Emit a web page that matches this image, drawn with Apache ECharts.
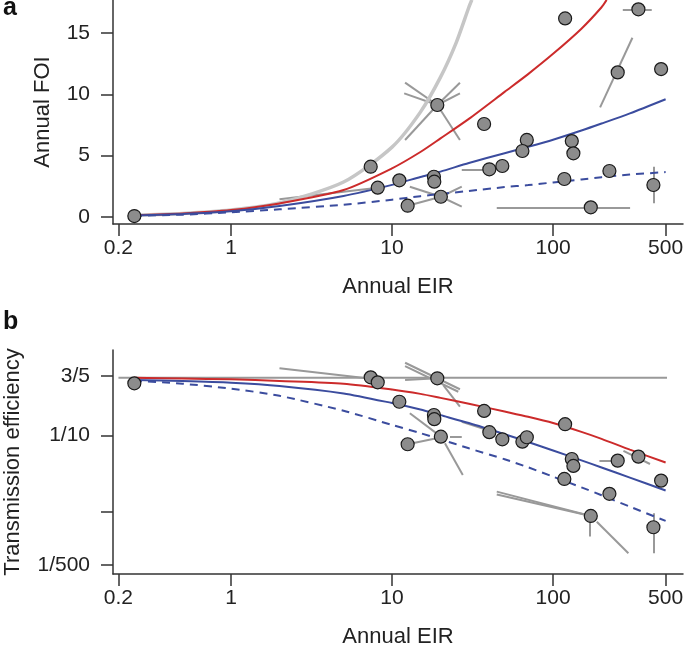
<!DOCTYPE html>
<html>
<head>
<meta charset="utf-8">
<script src="https://cdn.jsdelivr.net/npm/echarts@6/dist/echarts.min.js"></script>
<style>
  html, body { margin: 0; padding: 0; background: #fff; }
  #chart { width: 685px; height: 650px; }
</style>
</head>
<body>
<div id="chart"></div>
<script>
// ---- panel a: annual FOI against annual EIR ----
const eirA = [118.8, 338.8, 252, 468.7, 19.1, 37.3, 68.7, 64.5, 130.7, 133.7, 7.37, 40.2, 48.4, 223.8, 11.1, 8.15, 18.2, 18.3, 117.5, 419.8, 20.1, 12.5, 171.5, 0.251]
const foiA = [16.19, 16.93, 11.79, 12.06, 9.13, 7.58, 6.28, 5.38, 6.19, 5.19, 4.10, 3.89, 4.16, 3.75, 2.99, 2.39, 3.28, 2.88, 3.10, 2.61, 1.65, 0.92, 0.79, 0.08]

// ---- panel b: transmission efficiency against annual EIR ----
const eirB = [7.37, 8.15, 19.1, 11.1, 37.3, 18.2, 18.3, 20.1, 12.5, 40.2, 48.4, 64.5, 68.7, 118.8, 130.7, 133.7, 117.5, 252, 338.8, 468.7, 223.8, 171.5, 419.8, 0.251]
const effB = [0.577, 0.496, 0.560, 0.276, 0.209, 0.185, 0.163, 0.0961, 0.0764, 0.110, 0.0888, 0.0826, 0.0944, 0.140, 0.0490, 0.0397, 0.0268, 0.0466, 0.0526, 0.0255, 0.0171, 0.00877, 0.00624, 0.481]

// fitted curves
const fitEir = [0.25, 0.5, 1, 2, 5, 10, 15, 20, 30, 50, 70, 100, 150, 200, 300, 500]
const blueFoiA = [0.13, 0.25, 0.47, 0.90, 1.72, 2.62, 3.26, 3.70, 4.40, 5.20, 5.72, 6.30, 7.05, 7.62, 8.45, 9.60]
const dashFoiA = [0.10, 0.19, 0.38, 0.63, 1.0, 1.41, 1.70, 1.88, 2.12, 2.44, 2.6, 2.82, 3.06, 3.25, 3.46, 3.66]
const redEirA = [0.25, 0.5, 1, 2, 5, 10, 15, 20, 30, 50, 70, 100, 150, 200, 215]
const redFoiA = [0.14, 0.29, 0.57, 1.11, 2.2, 3.97, 5.30, 6.41, 8.0, 10.2, 11.65, 13.3, 15.35, 17.1, 17.7]
const greyEirA = [0.25, 0.5, 1, 2, 5, 10, 15, 20, 25, 30, 31.3]
const greyFoiA = [0.14, 0.285, 0.57, 1.14, 2.85, 5.7, 8.55, 11.4, 14.2, 17.1, 17.7]

const redEffB = [0.570, 0.556, 0.543, 0.516, 0.476, 0.40, 0.35, 0.31, 0.26, 0.205, 0.175, 0.145, 0.111, 0.090, 0.065, 0.044]
const blueEffB = [0.532, 0.515, 0.49, 0.445, 0.355, 0.265, 0.218, 0.184, 0.145, 0.1035, 0.0819, 0.0634, 0.0470, 0.0379, 0.0279, 0.0189]
const dashEffB = [0.521, 0.475, 0.41, 0.33, 0.21, 0.137, 0.107, 0.0888, 0.0676, 0.0486, 0.0381, 0.0287, 0.0208, 0.0164, 0.0116, 0.00755]
const greyEirB = [0.2, 510]
const greyEffB = [0.57, 0.57]

// error bars [x1, y1, x2, y2]
const errA = [
  [19.1, 9.13, 12.05, 10.95], [19.1, 9.13, 11.9, 10.08], [19.1, 9.13, 26.4, 10.95],
  [19.1, 9.13, 26.4, 10.08], [19.1, 9.13, 12.05, 6.28], [19.1, 9.13, 26.4, 6.28],
  [27.1, 3.89, 40.2, 3.89], [44.7, 0.79, 300.8, 0.79],
  [20.1, 1.65, 12.9, 2.47], [20.1, 1.65, 27.1, 2.47], [20.1, 1.65, 27.1, 0.84], [12.5, 0.92, 20.1, 1.65],
  [2.0, 1.44, 8.15, 2.39], [271, 16.93, 410, 16.93], [311, 14.61, 195.9, 8.94], [419.8, 4.10, 419.8, 1.12]
]
const errB = [
  [12.05, 0.896, 26.4, 0.402], [12.05, 0.811, 25.8, 0.373], [12.05, 0.532, 19.1, 0.560],
  [20.8, 0.457, 26.4, 0.238], [2.0, 0.757, 6.97, 0.560], [12.9, 0.195, 20.1, 0.0961],
  [22.9, 0.0961, 27.1, 0.0961], [21.3, 0.0787, 27.5, 0.0303], [12.5, 0.0764, 18.9, 0.0916],
  [27.1, 0.151, 38.7, 0.118], [44.7, 0.0183, 171.5, 0.00877], [44.7, 0.0168, 171.5, 0.00877],
  [169.8, 0.00859, 169.8, 0.0047], [186.8, 0.00738, 293.6, 0.00285], [424, 0.00953, 424, 0.00285],
  [194, 0.0466, 252, 0.0466], [273.5, 0.0624, 400, 0.0421]
]

const xTicks = [0.2, 1, 10, 100, 500]
const yTicksA = [0, 5, 10, 15]
const yTicksB = [0.002, 0.01, 0.1, 0.6]
const yLabelsB = [0.002, 0.1, 0.6]
const yNamesB = { 0.002: '1/500', 0.1: '1/10', 0.6: '3/5' }

const FONT = '"Liberation Sans", Arial, sans-serif'
const INK = '#222'
const RED = '#cc2b2b'
const BLUE = '#3b4c9e'
const zip = (xs, ys) => xs.map((x, i) => [x, ys[i]])
const segs = list => list.map(s => ({ coords: [[s[0], s[1]], [s[2], s[3]]] }))

const chart = echarts.init(document.getElementById('chart'))

function xAxis(gridIndex) {
  return {
    type: 'log',
    gridIndex: gridIndex,
    min: 0.185,
    max: 641,
    name: 'Annual EIR',
    nameLocation: 'middle',
    nameGap: 52,
    nameTextStyle: { fontSize: 22, color: INK, fontFamily: FONT },
    axisLine: { show: true, onZero: false, lineStyle: { color: '#333', width: 1.5 } },
    axisTick: { show: true, length: 12, customValues: xTicks, lineStyle: { color: '#333', width: 1.5 } },
    axisLabel: {
      customValues: xTicks, fontSize: 21, color: INK, fontFamily: FONT, margin: 14,
      formatter: v => String(+(+v).toPrecision(3))
    },
    splitLine: { show: false },
    minorTick: { show: false }
  }
}

function lineSeries(axis, data, color, width, dashed) {
  return {
    type: 'line',
    xAxisIndex: axis, yAxisIndex: axis,
    data: data,
    smooth: 0.25,
    showSymbol: false,
    silent: true,
    lineStyle: { color: color, width: width, type: dashed ? [8, 6] : 'solid' },
    z: 3
  }
}

function errSeries(axis, list) {
  return {
    type: 'lines',
    coordinateSystem: 'cartesian2d',
    xAxisIndex: axis, yAxisIndex: axis,
    data: segs(list),
    silent: true,
    lineStyle: { color: '#999', width: 2, opacity: 1 },
    z: 2
  }
}

function dotSeries(axis, data) {
  return {
    type: 'scatter',
    xAxisIndex: axis, yAxisIndex: axis,
    data: data,
    symbolSize: 13,
    itemStyle: { color: '#8c8c8c', borderColor: '#1a1a1a', borderWidth: 1.2, opacity: 1 },
    z: 5
  }
}

chart.setOption({
  animation: false,
  backgroundColor: '#fff',
  title: [
    { text: 'a', left: 3, top: -4, padding: 0, textStyle: { fontSize: 25, fontWeight: 'bold', color: '#111', fontFamily: FONT } },
    { text: 'b', left: 3, top: 310, padding: 0, textStyle: { fontSize: 25, fontWeight: 'bold', color: '#111', fontFamily: FONT } }
  ],
  grid: [
    { left: 113, right: 2, top: 0, height: 224, outerBoundsMode: 'none', containLabel: false },
    { left: 113, right: 2, top: 350, height: 224, outerBoundsMode: 'none', containLabel: false }
  ],
  xAxis: [xAxis(0), xAxis(1)],
  yAxis: [
    {
      type: 'value', gridIndex: 0, min: -0.57, max: 17.69,
      name: 'Annual FOI', nameLocation: 'middle', nameGap: 59,
      nameTextStyle: { fontSize: 22, color: INK, fontFamily: FONT },
      axisLine: { show: true, onZero: false, lineStyle: { color: '#333', width: 1.5 } },
      axisTick: { show: true, length: 12, customValues: yTicksA, lineStyle: { color: '#333', width: 1.5 } },
      axisLabel: { customValues: yTicksA, fontSize: 21, color: INK, fontFamily: FONT, margin: 23 },
      splitLine: { show: false }
    },
    {
      type: 'log', gridIndex: 1, min: 0.00152, max: 1.316,
      name: 'Transmission efficiency', nameLocation: 'middle', nameGap: 89,
      nameTextStyle: { fontSize: 22, color: INK, fontFamily: FONT },
      axisLine: { show: true, onZero: false, lineStyle: { color: '#333', width: 1.5 } },
      axisTick: { show: true, length: 12, customValues: yTicksB, lineStyle: { color: '#333', width: 1.5 } },
      axisLabel: {
        customValues: yLabelsB, fontSize: 21, color: INK, fontFamily: FONT, margin: 23,
        formatter: v => {
          for (const k of yLabelsB) if (Math.abs(v / k - 1) < 0.01) return yNamesB[k]
          return ''
        }
      },
      splitLine: { show: false },
      minorTick: { show: false }
    }
  ],
  series: [
    errSeries(0, errA),
    lineSeries(0, zip(greyEirA, greyFoiA), '#c6c6c6', 3.5, false),
    lineSeries(0, zip(redEirA, redFoiA), RED, 2, false),
    lineSeries(0, zip(fitEir, blueFoiA), BLUE, 2, false),
    lineSeries(0, zip(fitEir, dashFoiA), BLUE, 2, true),
    dotSeries(0, zip(eirA, foiA)),

    errSeries(1, errB),
    lineSeries(1, zip(greyEirB, greyEffB), '#999', 2, false),
    lineSeries(1, zip(fitEir, redEffB), RED, 2, false),
    lineSeries(1, zip(fitEir, blueEffB), BLUE, 2, false),
    lineSeries(1, zip(fitEir, dashEffB), BLUE, 2, true),
    dotSeries(1, zip(eirB, effB))
  ]
})
</script>
</body>
</html>
